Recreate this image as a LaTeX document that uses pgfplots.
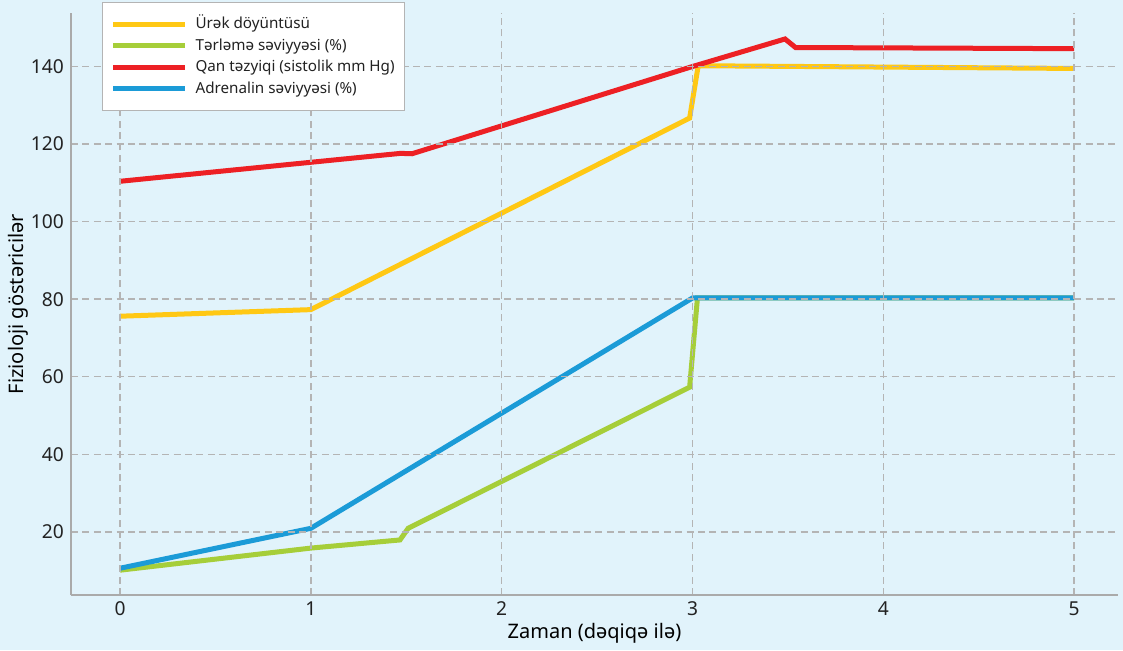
\documentclass[border=0pt]{standalone}
\usepackage{pgfplots}
\pgfplotsset{compat=1.18}
\usepackage{fontspec}
\setmainfont{Noto Sans}
\definecolor{bg}{RGB}{225,243,251}
\definecolor{cyel}{RGB}{255,200,20}
\definecolor{cgrn}{RGB}{166,206,57}
\definecolor{cred}{RGB}{237,32,36}
\definecolor{cblu}{RGB}{27,155,215}
\definecolor{spine}{RGB}{170,170,170}
\definecolor{gridc}{RGB}{180,180,180}
\definecolor{txt}{RGB}{34,34,34}
\begin{document}
\begin{tikzpicture}
\fill[bg] (0,0) rectangle (561.5pt,325pt);
\begin{axis}[
  at={(35.5pt,27.5pt)}, anchor=south west,
  scale only axis, width=523.5pt, height=291pt,
  xmin=-0.257, xmax=5.23, ymin=3.7, ymax=153.8,
  axis lines=left,
  axis line style={-, draw=spine, line width=0.8pt},
  axis on top,
  xtick={0,1,2,3,4,5}, ytick={20,40,60,80,100,120,140},
  major tick length=0pt,
  grid=major,
  major grid style={draw=gridc, line width=0.75pt, dash pattern=on 3.5pt off 2.2pt},
  ticklabel style={font=\fontsize{9.6}{11}\selectfont, text=txt},
  /pgf/number format/assume math mode=true,
  xlabel={Zaman (dəqiqə ilə)},
  ylabel={Fizioloji göstəricilər},
  label style={font=\fontsize{9.6}{11}\selectfont, text=txt},
  every axis x label/.style={at={(axis description cs:0.5,-0.0653)}, anchor=center},
  every axis y label/.style={at={(axis description cs:-0.0506,0.5)}, rotate=90, anchor=center},
  legend cell align=left,
  legend image code/.code={\draw[#1] (0pt,0pt) -- (36pt,0pt);},
  legend style={at={(axis description cs:0.0296,1.019)}, anchor=north west,
    draw=gridc, fill=white, line width=0.6pt,
    font=\fontsize{7.6}{9.5}\selectfont, text=txt,
    inner xsep=4pt, inner ysep=5.5pt, row sep=0pt,
    /tikz/every odd column/.append style={column sep=3pt},
    nodes={inner sep=1pt, text height=6.5pt, text depth=2.25pt}},
  line join=miter,
]
\addplot[cyel, line width=2.5pt] coordinates {(0,75.6) (1,77.3) (2.985,126.7) (3.03,140.2) (5,139.5)};
\addlegendentry{Ürək döyüntüsü}
\addplot[cgrn, line width=2.5pt] coordinates {(0,10.1) (1,15.8) (1.467,17.9) (1.51,20.9) (2.985,57.3) (3.026,80.3) (5,80.3)};
\addlegendentry{Tərləmə səviyyəsi (\%)}
\addplot[cred, line width=2.5pt] coordinates {(0,110.4) (1,115.3) (1.47,117.6) (1.53,117.5) (3,140) (3.485,147.1) (3.54,144.9) (5,144.6)};
\addlegendentry{Qan təzyiqi (sistolik mm Hg)}
\addplot[cblu, line width=2.5pt] coordinates {(0,10.6) (1,20.9) (3,80.3) (5,80.3)};
\addlegendentry{Adrenalin səviyyəsi (\%)}
\end{axis}
\end{tikzpicture}
\end{document}
